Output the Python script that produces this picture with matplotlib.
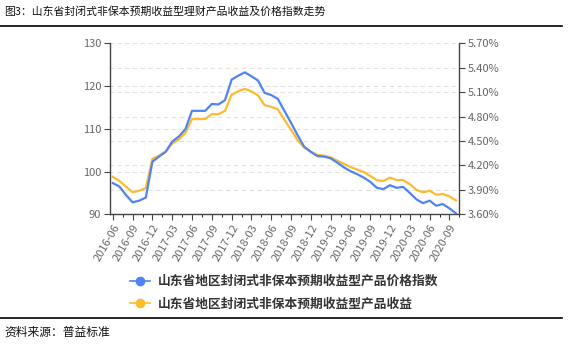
import numpy as np
import matplotlib
matplotlib.use('Agg')
import matplotlib.pyplot as plt
from matplotlib.lines import Line2D
from matplotlib.ticker import FuncFormatter

plt.rcParams['font.family'] = ['Noto Sans CJK SC', 'DejaVu Sans']

months = ['2016-06', '2016-07', '2016-08', '2016-09', '2016-10', '2016-11', '2016-12',
          '2017-01', '2017-02', '2017-03', '2017-04', '2017-05', '2017-06', '2017-07',
          '2017-08', '2017-09', '2017-10', '2017-11', '2017-12', '2018-01', '2018-02',
          '2018-03', '2018-04', '2018-05', '2018-06', '2018-07', '2018-08', '2018-09',
          '2018-10', '2018-11', '2018-12', '2019-01', '2019-02', '2019-03', '2019-04',
          '2019-05', '2019-06', '2019-07', '2019-08', '2019-09', '2019-10', '2019-11',
          '2019-12', '2020-01', '2020-02', '2020-03', '2020-04', '2020-05', '2020-06',
          '2020-07', '2020-08', '2020-09', '2020-10']

price_index = [97.3, 96.5, 94.5, 92.8, 93.2, 93.9, 102.3, 103.5, 104.6, 107.0,
               108.2, 109.9, 114.2, 114.2, 114.2, 115.8, 115.7, 116.7, 121.5, 122.4,
               123.2, 122.3, 121.3, 118.4, 117.9, 117.0, 114.2, 111.4, 108.5, 105.8,
               104.6, 103.6, 103.5, 103.1, 102.1, 101.0, 100.1, 99.4, 98.6, 97.6,
               96.2, 95.9, 96.8, 96.2, 96.4, 95.0, 93.5, 92.6, 93.2, 92.0,
               92.4, 91.4, 90.2]

yield_rate = [4.06, 4.01, 3.94, 3.87, 3.89, 3.92, 4.28, 4.32, 4.37, 4.47,
              4.52, 4.60, 4.77, 4.77, 4.77, 4.83, 4.83, 4.87, 5.07, 5.11,
              5.14, 5.11, 5.06, 4.94, 4.92, 4.89, 4.76, 4.64, 4.51, 4.42,
              4.37, 4.33, 4.32, 4.30, 4.26, 4.22, 4.18, 4.15, 4.12, 4.07,
              4.02, 4.01, 4.05, 4.02, 4.02, 3.97, 3.90, 3.87, 3.89, 3.84,
              3.85, 3.82, 3.77]

label_index = '山东省地区封闭式非保本预期收益型产品价格指数'
label_yield = '山东省地区封闭式非保本预期收益型产品收益'

blue = '#4f84f2'
orange = '#fdbb2d'
grid_c = '#e2e2e2'
axis_c = '#444444'
text_c = '#666666'

W, H = 577, 347
fig = plt.figure(figsize=(W / 100, H / 100), dpi=100)

left, right, top, bottom = 109.5, 459.3, 43.3, 214.3
ax = fig.add_axes([left / W, 1 - bottom / H, (right - left) / W, (bottom - top) / H])
ax2 = ax.twinx()
# left axis on top so that every gridline (kept on ax2) stays under both lines
ax.set_zorder(2)
ax.patch.set_visible(False)

x = np.arange(len(months))
ax.plot(x, price_index, color=blue, linewidth=1.6, zorder=3)
ax2.plot(x, yield_rate, color=orange, linewidth=1.6, zorder=3)

ax.set_xlim(-0.5, len(months) - 0.5)
ax.set_ylim(90, 130)
ax2.set_ylim(3.6, 5.7)
ax.set_yticks([90, 100, 110, 120, 130])
ax2.set_yticks([3.6, 3.9, 4.2, 4.5, 4.8, 5.1, 5.4, 5.7])
ax2.yaxis.set_major_formatter(FuncFormatter(lambda v, p: f'{v:.2f}%'))

ax.set_xticks(x[::3])
ax.set_xticklabels(months[::3], rotation=60, ha='right', rotation_mode='anchor')

# grids: right axis majors, left axis levels mapped onto the right scale, vertical dashes
to_right = lambda v: 3.6 + (v - 90) * (5.7 - 3.6) / (130 - 90)
ax2.set_yticks([to_right(v) for v in [100, 110, 120]], minor=True)
ax2.set_xticks(x[1::3] + 0.5, minor=True)
ax2.tick_params(which='minor', length=0)
for which, axis in [('major', 'y'), ('minor', 'y'), ('minor', 'x')]:
    ax2.grid(True, which=which, axis=axis, color=grid_c, linestyle=(0, (4, 3)), linewidth=0.8)

for a in (ax, ax2):
    for s in a.spines.values():
        s.set_visible(False)
ax.spines['left'].set_visible(True)
ax.spines['bottom'].set_visible(True)
ax2.spines['right'].set_visible(True)
for s in (ax.spines['left'], ax.spines['bottom'], ax2.spines['right']):
    s.set_color(axis_c)
    s.set_linewidth(1.0)

ax.tick_params(axis='both', colors=axis_c, labelcolor=text_c, labelsize=8, length=4, width=0.8, pad=2)
ax2.tick_params(axis='y', colors=axis_c, labelcolor=text_c, labelsize=8, length=4, width=0.8, pad=2)

fig.legend(handles=[Line2D([], [], color=blue, linewidth=1.2, marker='o', markersize=6),
                    Line2D([], [], color=orange, linewidth=1.2, marker='o', markersize=6)],
           labels=[label_index, label_yield],
           loc='upper left', bbox_to_anchor=(130 / W, 1 - 275 / H),
           frameon=False, borderpad=0, borderaxespad=0, handlelength=1.6,
           handletextpad=0.6, labelspacing=0.72,
           prop={'weight': 'bold', 'size': 9.2}, labelcolor='#333333')

fig.text(4 / W, 1 - 12 / H, '图3：山东省封闭式非保本预期收益型理财产品收益及价格指数走势',
         fontsize=7.8, va='center', ha='left', color='#111111')
fig.text(4 / W, 1 - 332 / H, '资料来源：普益标准', fontsize=8.5, va='center', ha='left',
         color='#111111')
fig.add_artist(Line2D([0, 562 / W], [1 - 26 / H, 1 - 26 / H], color='black', linewidth=1.2))
fig.add_artist(Line2D([0, 562 / W], [1 - 317.5 / H, 1 - 317.5 / H], color='black', linewidth=1.2))

fig.savefig('out.png', dpi=100)
